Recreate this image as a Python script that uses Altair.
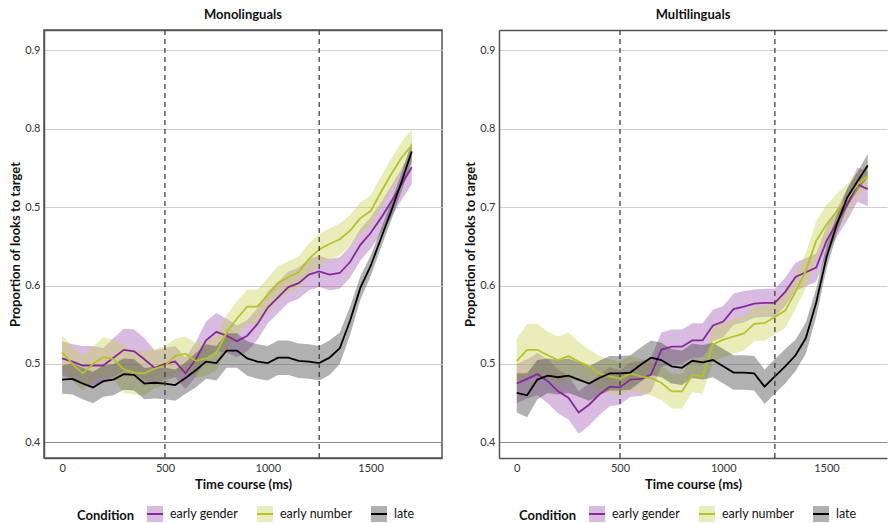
import altair as alt
import pandas as pd

# ---------------- data ----------------
time_ms = [0, 50, 100, 150, 200, 250, 300, 350, 400, 450, 500, 550, 600, 650, 700,
           750, 800, 850, 900, 950, 1000, 1050, 1100, 1150, 1200, 1250, 1300, 1350,
           1400, 1450, 1500, 1550, 1600, 1650, 1700]
conditions = ["early gender", "early number", "late"]
panel_titles = ["Monolinguals", "Multilinguals"]
y_ticks = [0.4, 0.5, 0.6, 0.7, 0.8, 0.9]
x_ticks = [0, 500, 1000, 1500]
marker_times = [500, 1250]

# Monolinguals: mean proportion of looks to target
mono_gender_mean = [0.507, 0.503, 0.498, 0.498, 0.498, 0.508, 0.518, 0.516, 0.506, 0.495,
                    0.500, 0.503, 0.488, 0.506, 0.530, 0.541, 0.536, 0.529, 0.536, 0.551,
                    0.572, 0.585, 0.598, 0.603, 0.614, 0.618, 0.614, 0.616, 0.630, 0.652,
                    0.667, 0.686, 0.707, 0.729, 0.751]
mono_number_mean = [0.515, 0.500, 0.488, 0.500, 0.509, 0.506, 0.493, 0.489, 0.488, 0.494,
                    0.498, 0.510, 0.513, 0.504, 0.507, 0.514, 0.540, 0.558, 0.573, 0.573,
                    0.588, 0.603, 0.611, 0.617, 0.634, 0.646, 0.653, 0.659, 0.670, 0.686,
                    0.695, 0.719, 0.742, 0.763, 0.779]
mono_late_mean = [0.480, 0.481, 0.475, 0.470, 0.478, 0.480, 0.487, 0.486, 0.475, 0.476,
                  0.475, 0.473, 0.482, 0.492, 0.503, 0.501, 0.517, 0.517, 0.507, 0.503,
                  0.501, 0.508, 0.508, 0.504, 0.503, 0.501, 0.508, 0.520, 0.555, 0.597,
                  0.625, 0.660, 0.695, 0.732, 0.771]
# Monolinguals: half-width of the confidence band
mono_gender_ci = [0.022, 0.022, 0.025, 0.025, 0.022, 0.025, 0.027, 0.028, 0.027, 0.022,
                  0.020, 0.020, 0.020, 0.022, 0.024, 0.024, 0.022, 0.020, 0.020, 0.020,
                  0.020, 0.020, 0.020, 0.020, 0.020, 0.020, 0.020, 0.020, 0.020, 0.020,
                  0.020, 0.020, 0.020, 0.020, 0.022]
mono_number_ci = [0.022, 0.022, 0.022, 0.022, 0.025, 0.025, 0.030, 0.028, 0.028, 0.025,
                  0.025, 0.022, 0.022, 0.022, 0.022, 0.022, 0.022, 0.022, 0.022, 0.022,
                  0.022, 0.022, 0.020, 0.020, 0.020, 0.020, 0.020, 0.020, 0.020, 0.020,
                  0.020, 0.020, 0.020, 0.020, 0.020]
mono_late_ci = [0.018, 0.020, 0.020, 0.020, 0.020, 0.020, 0.020, 0.020, 0.020, 0.020,
                0.020, 0.020, 0.020, 0.022, 0.022, 0.022, 0.022, 0.022, 0.022, 0.022,
                0.022, 0.022, 0.022, 0.022, 0.022, 0.022, 0.022, 0.020, 0.018, 0.015,
                0.013, 0.012, 0.012, 0.012, 0.012]

# Multilinguals: mean proportion of looks to target
multi_gender_mean = [0.475, 0.481, 0.487, 0.478, 0.465, 0.457, 0.438, 0.448, 0.461, 0.471,
                     0.470, 0.480, 0.481, 0.486, 0.518, 0.522, 0.522, 0.530, 0.530, 0.549,
                     0.554, 0.570, 0.573, 0.577, 0.578, 0.578, 0.592, 0.611, 0.617, 0.623,
                     0.657, 0.680, 0.703, 0.729, 0.723]
multi_number_mean = [0.504, 0.518, 0.518, 0.511, 0.505, 0.510, 0.503, 0.497, 0.488, 0.484,
                     0.481, 0.488, 0.484, 0.482, 0.476, 0.465, 0.465, 0.486, 0.484, 0.525,
                     0.531, 0.535, 0.539, 0.551, 0.552, 0.560, 0.568, 0.592, 0.619, 0.657,
                     0.678, 0.695, 0.710, 0.729, 0.740]
multi_late_mean = [0.463, 0.460, 0.480, 0.485, 0.483, 0.485, 0.480, 0.475, 0.482, 0.488,
                   0.488, 0.489, 0.499, 0.508, 0.505, 0.497, 0.495, 0.504, 0.502, 0.505,
                   0.497, 0.489, 0.489, 0.488, 0.471, 0.484, 0.497, 0.511, 0.533, 0.578,
                   0.636, 0.678, 0.712, 0.733, 0.753]
# Multilinguals: half-width of the confidence band
multi_gender_ci = [0.025, 0.025, 0.027, 0.028, 0.028, 0.028, 0.027, 0.027, 0.026, 0.025,
                   0.022, 0.022, 0.022, 0.022, 0.022, 0.022, 0.022, 0.022, 0.022, 0.020,
                   0.020, 0.020, 0.020, 0.018, 0.018, 0.018, 0.018, 0.018, 0.018, 0.018,
                   0.018, 0.018, 0.020, 0.022, 0.022]
multi_number_ci = [0.028, 0.033, 0.033, 0.030, 0.030, 0.030, 0.025, 0.022, 0.022, 0.022,
                   0.022, 0.022, 0.022, 0.022, 0.022, 0.022, 0.022, 0.022, 0.022, 0.022,
                   0.022, 0.022, 0.022, 0.022, 0.022, 0.022, 0.022, 0.022, 0.022, 0.025,
                   0.025, 0.022, 0.020, 0.015, 0.015]
multi_late_ci = [0.025, 0.028, 0.025, 0.022, 0.022, 0.022, 0.022, 0.022, 0.022, 0.022,
                 0.022, 0.022, 0.022, 0.022, 0.022, 0.022, 0.022, 0.022, 0.022, 0.022,
                 0.022, 0.022, 0.022, 0.022, 0.022, 0.022, 0.022, 0.020, 0.020, 0.018,
                 0.015, 0.012, 0.012, 0.012, 0.015]

line_colors = ["#86289A", "#B3C42A", "#000000"]
band_colors = ["rgba(160,85,181,0.4)", "rgba(198,211,80,0.4)", "rgba(60,60,60,0.4)"]

FONT = "Lato"
# legend glyph: filled square with a single stroked horizontal line (dash hides the rest)
LEGEND_SYMBOL = "M-1,0H1V-1H-1V1H1V0"


def make_frame(means, cis):
    rows = []
    for cond, m, c in zip(conditions, means, cis):
        for t, v, h in zip(time_ms, m, c):
            rows.append({"Condition": cond, "time": t, "mean": v,
                         "lo": round(v - h, 4), "hi": round(v + h, 4)})
    return pd.DataFrame(rows)


def legend_for(legend_x):
    return alt.Legend(orient="none", legendX=legend_x, legendY=475,
                      symbolType=LEGEND_SYMBOL, symbolDash=[16, 300],
                      symbolStrokeWidth=2)


def panel(title, df, x_domain, width, label_expr, legend_x, boxed):
    x_scale = alt.Scale(domain=x_domain, nice=False, zero=False)
    y_scale = alt.Scale(domain=[0.38, 0.926], nice=False, zero=False)
    y_axis = alt.Axis(values=y_ticks, labelExpr=label_expr,
                      title="Proportion of looks to target",
                      gridColor={"condition": {"test": "datum.value < 0.45", "value": "#8c8c8c"},
                                 "value": "#cfcfcf"})
    x_axis = alt.Axis(values=x_ticks, format="d", title="Time course (ms)", grid=False)
    top_axis = alt.Axis(orient="top", labels=False, ticks=False, grid=False,
                        domain=True, title=None)
    base = alt.Chart(df)
    band = base.mark_area().encode(
        x=alt.X("time:Q", scale=x_scale, axis=x_axis),
        y=alt.Y("lo:Q", scale=y_scale, axis=y_axis),
        y2="hi:Q",
        fill=alt.Fill("Condition:N",
                      scale=alt.Scale(domain=conditions, range=band_colors),
                      legend=legend_for(legend_x)),
    )
    line = base.mark_line(strokeWidth=1.8).encode(
        x=alt.X("time:Q", scale=x_scale, axis=None),
        y=alt.Y("mean:Q", scale=y_scale),
        stroke=alt.Stroke("Condition:N",
                          scale=alt.Scale(domain=conditions, range=line_colors),
                          legend=legend_for(legend_x)),
    )
    rules = alt.Chart(pd.DataFrame({"t": marker_times})).mark_rule(
        color="#404040", strokeDash=[5, 4], strokeWidth=1.3
    ).encode(x=alt.X("t:Q", scale=x_scale, axis=top_axis))
    layered = alt.layer(band, line, rules).resolve_axis(x="independent")
    props = dict(width=width, height=428, title=title)
    if not boxed:
        props["view"] = alt.ViewBackground(stroke="transparent")
    return layered.properties(**props)


mono_df = make_frame([mono_gender_mean, mono_number_mean, mono_late_mean],
                     [mono_gender_ci, mono_number_ci, mono_late_ci])
multi_df = make_frame([multi_gender_mean, multi_number_mean, multi_late_mean],
                      [multi_gender_ci, multi_number_ci, multi_late_ci])

left = panel(panel_titles[0], mono_df, [-88, 1847], 398,
             "abs(datum.value - 0.7) < 0.001 ? '0.5' : format(datum.value, '.1f')", 33, True)
right = panel(panel_titles[1], multi_df, [-86, 1793], 388,
              "format(datum.value, '.1f')", 20, False)

chart = alt.hconcat(left, right, spacing=20).resolve_legend(
    fill="independent", stroke="independent"
).properties(
    padding={"left": 0, "top": 0, "right": 0, "bottom": 0}
).configure_view(
    stroke="#555555", strokeWidth=1.5
).configure_axis(
    labelFont=FONT, labelFontSize=11, labelColor="#333333",
    titleFont=FONT, titleFontSize=13, titleFontWeight="bold", titleColor="#111111",
    domainColor="#555555", domainWidth=1.5, ticks=False, labelPadding=4
).configure_axisX(
    titlePadding=5
).configure_axisY(
    titlePadding=2
).configure_title(
    font=FONT, fontSize=13, fontWeight="bold", anchor="middle", offset=7, color="#111111"
).configure_legend(
    labelFont=FONT, labelFontSize=12.5, labelColor="#111111",
    titleFont=FONT, titleFontSize=13, titleFontWeight="bold", titleColor="#111111",
    direction="horizontal", titleOrient="left", symbolSize=256,
    labelOffset=6, columnPadding=14, titlePadding=11
)

chart.save("out.html", embed_options={"renderer": "svg", "actions": False})
